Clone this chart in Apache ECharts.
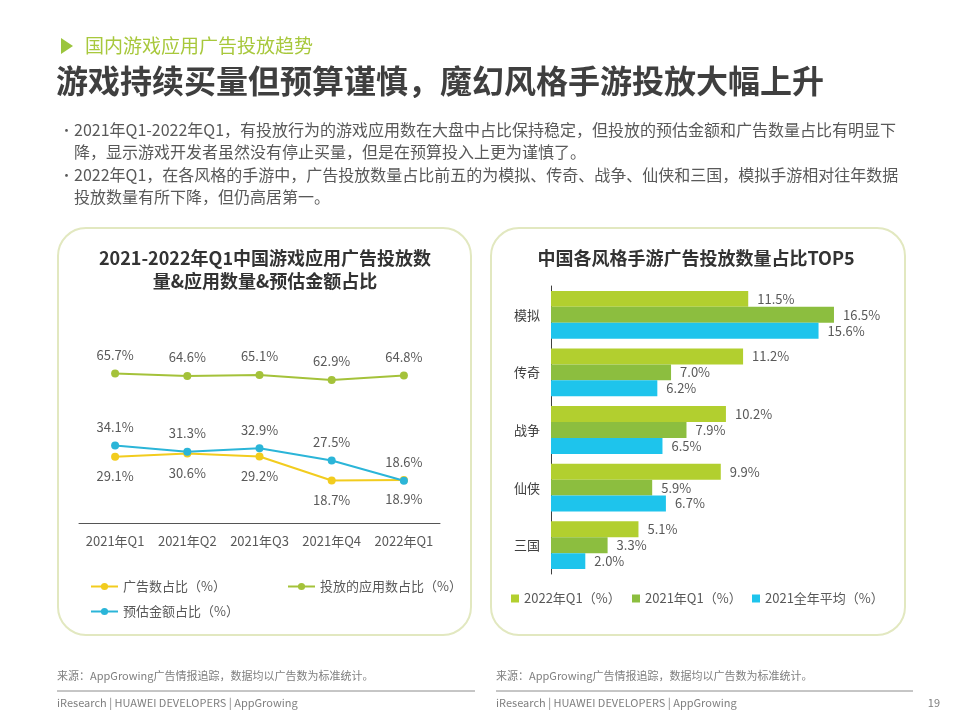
<!DOCTYPE html>
<html><head><meta charset="utf-8">
<script src="https://cdn.jsdelivr.net/npm/echarts@6/dist/echarts.min.js"></script>
<style>html,body{margin:0;padding:0;background:#fff}#c{width:960px;height:720px}</style>
</head><body><div id="c"></div>
<script>
var quarters = ['2021年Q1','2021年Q2','2021年Q3','2021年Q4','2022年Q1'];
var adShare = [29.1, 30.6, 29.2, 18.7, 18.9];
var appShare = [65.7, 64.6, 65.1, 62.9, 64.8];
var spendShare = [34.1, 31.3, 32.9, 27.5, 18.6];
var lineNames = ['广告数占比（%）','投放的应用数占比（%）','预估金额占比（%）'];

var genres = ['模拟','传奇','战争','仙侠','三国'];
var q1_2022 = [11.5, 11.2, 10.2, 9.9, 5.1];
var q1_2021 = [16.5, 7.0, 7.9, 5.9, 3.3];
var avg2021 = [15.6, 6.2, 6.5, 6.7, 2.0];
var barNames = ['2022年Q1（%）','2021年Q1（%）','2021全年平均（%）'];

var FONT = '"Noto Sans CJK SC","Noto Sans",sans-serif';
var GRAY = '#595959';
var chart = echarts.init(document.getElementById('c'), null, {renderer:'canvas'});

function txt(x, y, s, size, color, extra){
  var st = {text:s, x:0, y:0, font: (extra && extra.weight ? extra.weight+' ' : '') + size + 'px ' + FONT, fill:color, textAlign:(extra&&extra.align)||'left', textVerticalAlign:'middle'};
  return {type:'text', x:x, y:y, style:st, silent:true};
}

var graphics = [
  {type:'polygon', shape:{points:[[61,38],[73,46],[61,54]]}, style:{fill:'#9BC53D'}},
  txt(85, 46, '国内游戏应用广告投放趋势', 19, '#A8C83C'),
  txt(56, 81, '游戏持续买量但预算谨慎，魔幻风格手游投放大幅上升', 32, '#3f3f3f', {weight:'bold'}),
  txt(60, 130, '•', 13, GRAY),
  txt(74, 130, '2021年Q1-2022年Q1，有投放行为的游戏应用数在大盘中占比保持稳定，但投放的预估金额和广告数量占比有明显下', 16, GRAY),
  txt(74, 152, '降，显示游戏开发者虽然没有停止买量，但是在预算投入上更为谨慎了。', 16, GRAY),
  txt(60, 175, '•', 13, GRAY),
  txt(74, 175, '2022年Q1，在各风格的手游中，广告投放数量占比前五的为模拟、传奇、战争、仙侠和三国，模拟手游相对往年数据', 16, GRAY),
  txt(74, 197, '投放数量有所下降，但仍高居第一。', 16, GRAY),
  {type:'rect', shape:{x:58, y:228, width:413, height:407, r:28}, style:{fill:'none', stroke:'#E2E8C0', lineWidth:2}, z:-1},
  {type:'rect', shape:{x:491, y:228, width:414, height:407, r:28}, style:{fill:'none', stroke:'#E2E8C0', lineWidth:2}, z:-1},
  txt(265, 258, '2021-2022年Q1中国游戏应用广告投放数', 18, '#333333', {weight:'bold', align:'center'}),
  txt(265, 281, '量&应用数量&预估金额占比', 18, '#333333', {weight:'bold', align:'center'}),
  txt(696, 258, '中国各风格手游广告投放数量占比TOP5', 18, '#333333', {weight:'bold', align:'center'}),
  txt(57, 676, '来源：AppGrowing广告情报追踪，数据均以广告数为标准统计。', 11, '#7f7f7f'),
  txt(496, 676, '来源：AppGrowing广告情报追踪，数据均以广告数为标准统计。', 11, '#7f7f7f'),
  {type:'line', shape:{x1:57, y1:691, x2:475, y2:691}, style:{stroke:'#8c8c8c', lineWidth:1}},
  {type:'line', shape:{x1:496, y1:691, x2:913, y2:691}, style:{stroke:'#8c8c8c', lineWidth:1}},
  txt(57, 703, 'iResearch | HUAWEI DEVELOPERS | AppGrowing', 11, '#7f7f7f'),
  txt(496, 703, 'iResearch | HUAWEI DEVELOPERS | AppGrowing', 11, '#7f7f7f'),
  txt(940, 703, '19', 11, '#7f7f7f', {align:'right'})
];

var lineColors = ['#F2CC1E', '#A4C23A', '#2BB5D8'];
var barColors = ['#B2CF2F', '#8CBE3F', '#1EC4EC'];
var labelStyle = {color:GRAY, fontSize:13, fontFamily:FONT, formatter: function(p){ return p.value.toFixed(1) + '%'; }};

function lineSeries(name, data, color, pos, dist){
  return {type:'line', name:name, data:data, xAxisIndex:0, yAxisIndex:0,
    symbol:'circle', symbolSize:8, itemStyle:{color:color}, lineStyle:{color:color, width:2},
    label:Object.assign({show:true, position:pos, distance:dist}, labelStyle), z: 3};
}
function barSeries(name, data, color){
  return {type:'bar', name:name, data:data, xAxisIndex:1, yAxisIndex:1, itemStyle:{color:color},
    barGap:'0%', barCategoryGap:'17%',
    label:Object.assign({show:true, position:'right', distance:9}, labelStyle)};
}
var legendText = {color:GRAY, fontSize:13, fontFamily:FONT};
function lg(name, left, top, w, h, icon){
  var o = {data:[name], left:left, top:top, padding:0, itemWidth:w, itemHeight:h, itemGap:4, textStyle:legendText};
  if (icon) o.icon = icon;
  return o;
}

chart.setOption({
  animation:false,
  textStyle:{fontFamily:FONT},
  graphic: graphics,
  grid:[
    {left:79, width:361, top:341, height:182},
    {left:551, width:343, top:286, height:288}
  ],
  xAxis:[
    {type:'category', gridIndex:0, data:quarters, boundaryGap:true,
     axisLine:{lineStyle:{color:'#555555', width:1}}, axisTick:{show:false},
     axisLabel:{color:GRAY, fontSize:13, margin:12, interval:0, fontFamily:FONT}},
    {type:'value', gridIndex:1, min:0, max:20, show:false}
  ],
  yAxis:[
    {type:'value', gridIndex:0, min:0, max:80, show:false},
    {type:'category', gridIndex:1, data:genres, inverse:true,
     axisLine:{lineStyle:{color:'#404040', width:1}}, axisTick:{show:false},
     axisLabel:{color:'#404040', fontSize:13, margin:11, fontFamily:FONT}}
  ],
  legend:[
    lg(lineNames[0], 90, 580, 27, 9),
    lg(lineNames[1], 287, 580, 27, 9),
    lg(lineNames[2], 90, 605, 27, 9),
    lg(barNames[0], 511, 592, 8, 8, 'rect'),
    lg(barNames[1], 632, 592, 8, 8, 'rect'),
    lg(barNames[2], 752, 592, 8, 8, 'rect')
  ],
  series:[
    lineSeries(lineNames[1], appShare, lineColors[1], 'top', 8),
    lineSeries(lineNames[0], adShare, lineColors[0], 'bottom', 9),
    lineSeries(lineNames[2], spendShare, lineColors[2], 'top', 8),
    barSeries(barNames[0], q1_2022, barColors[0]),
    barSeries(barNames[1], q1_2021, barColors[1]),
    barSeries(barNames[2], avg2021, barColors[2])
  ]
});
</script></body></html>
